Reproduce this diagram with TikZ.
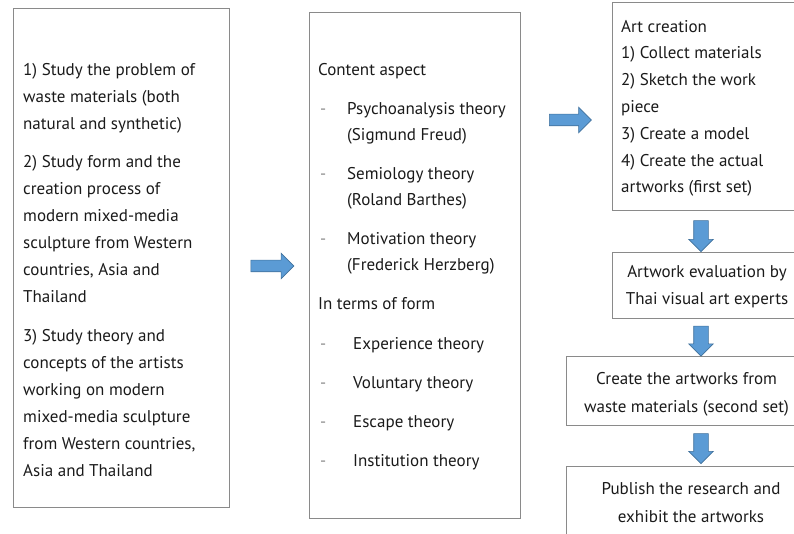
\documentclass[tikz,border=0pt]{standalone}
\usepackage{fontspec}
\setmainfont{PT Sans}
\usetikzlibrary{shapes.arrows}
\definecolor{arrowfill}{HTML}{5B9BD5}
\definecolor{arrowline}{HTML}{41719C}
\definecolor{boxline}{HTML}{8A8A8A}
\definecolor{textcol}{HTML}{1A1A1A}
\definecolor{dashcol}{HTML}{8C8C8C}
\newcommand{\itemdash}[1]{\makebox[#1][l]{\hspace{2pt}\textcolor{dashcol}{-}}}
\begin{document}
\begin{tikzpicture}[x=1pt,y=-1pt,
  box/.style={draw=boxline, line width=0.9pt, inner sep=0pt},
  txt/.style={inner sep=0pt, align=left, anchor=north west, text=textcol},
  ctxt/.style={inner sep=0pt, align=center, anchor=north, text=textcol},
  rightarrow/.style={single arrow, fill=arrowfill, draw=arrowline, line width=0.6pt,
    inner xsep=0pt, inner ysep=5.5pt, single arrow head extend=7pt},
  downarrow/.style={single arrow, fill=arrowfill, draw=arrowline, line width=0.6pt,
    inner xsep=7pt, inner ysep=0pt, single arrow head extend=5pt, shape border rotate=270}
]
\useasboundingbox (0,0) rectangle (794,534);
\clip (0,0) rectangle (794,534);
% boxes
\node[box, minimum width=216pt, minimum height=499pt] (study) at (121,257.5) {};
\node[box, minimum width=211pt, minimum height=506pt] (content) at (414.5,265) {};
\node[box, minimum width=198pt, minimum height=208pt] (art) at (711,106) {};
\node[box, minimum width=198pt, minimum height=66pt] (eval) at (711,285) {};
\node[box, minimum width=244pt, minimum height=69pt] (create) at (688,390.5) {};
\node[box, minimum width=244pt, minimum height=94pt] (publish) at (688,513) {};
% texts (strut at start: top = baseline - 0.7 baselineskip)
\node[txt, font=\fontsize{17}{27}\selectfont] (studytext) at (23,56.1) {%
\strut 1) Study the problem of\\ waste materials (both\\ natural and synthetic)\\[11.5pt]
2) Study form and the\\ creation process of\\ modern mixed-media\\ sculpture from Western\\ countries, Asia and\\ Thailand\\[11.5pt]
3) Study theory and\\ concepts of the artists\\ working on modern\\ mixed-media sculpture\\ from Western countries,\\ Asia and Thailand};
\node[txt, font=\fontsize{17}{26}\selectfont] (contenttext) at (318,56.8) {%
\strut Content aspect\\[13pt]
\itemdash{29pt}Psychoanalysis theory\\ \hspace*{29pt}(Sigmund Freud)\\[13pt]
\itemdash{29pt}Semiology theory\\ \hspace*{29pt}(Roland Barthes)\\[13pt]
\itemdash{29pt}Motivation theory\\ \hspace*{29pt}(Frederick Herzberg)\\[13pt]
In terms of form\\[14pt]
\itemdash{35pt}Experience theory\\[13pt]
\itemdash{35pt}Voluntary theory\\[13pt]
\itemdash{35pt}Escape theory\\[13pt]
\itemdash{35pt}Institution theory};
\node[txt, font=\fontsize{17}{26.8}\selectfont] (arttext) at (621,13.2) {%
\strut Art creation\\ 1) Collect materials\\ 2) Sketch the work\\ piece\\ 3) Create a model\\ 4) Create the actual\\ artworks (first set)};
\node[ctxt, font=\fontsize{17}{27}\selectfont] (evaltext) at (707,258.1) {\strut Artwork evaluation by\\ Thai visual art experts};
\node[ctxt, font=\fontsize{17}{28}\selectfont] (createtext) at (686.5,364.4) {\strut Create the artworks from\\ waste materials (second set)};
\node[ctxt, font=\fontsize{17}{28}\selectfont] (publishtext) at (691,474.4) {\strut Publish the research and\\ exhibit the artworks};
% arrows
\node[rightarrow, minimum height=43pt] (arrA) at (269.5,266) {};
\node[rightarrow, minimum height=42pt] (arrB) at (567.5,120) {};
\node[downarrow, minimum height=31pt] (arrC) at (701,232.5) {};
\node[downarrow, minimum height=30pt] (arrD) at (701,337.5) {};
\node[downarrow, minimum height=30pt] (arrE) at (701,445) {};
\end{tikzpicture}
\end{document}
